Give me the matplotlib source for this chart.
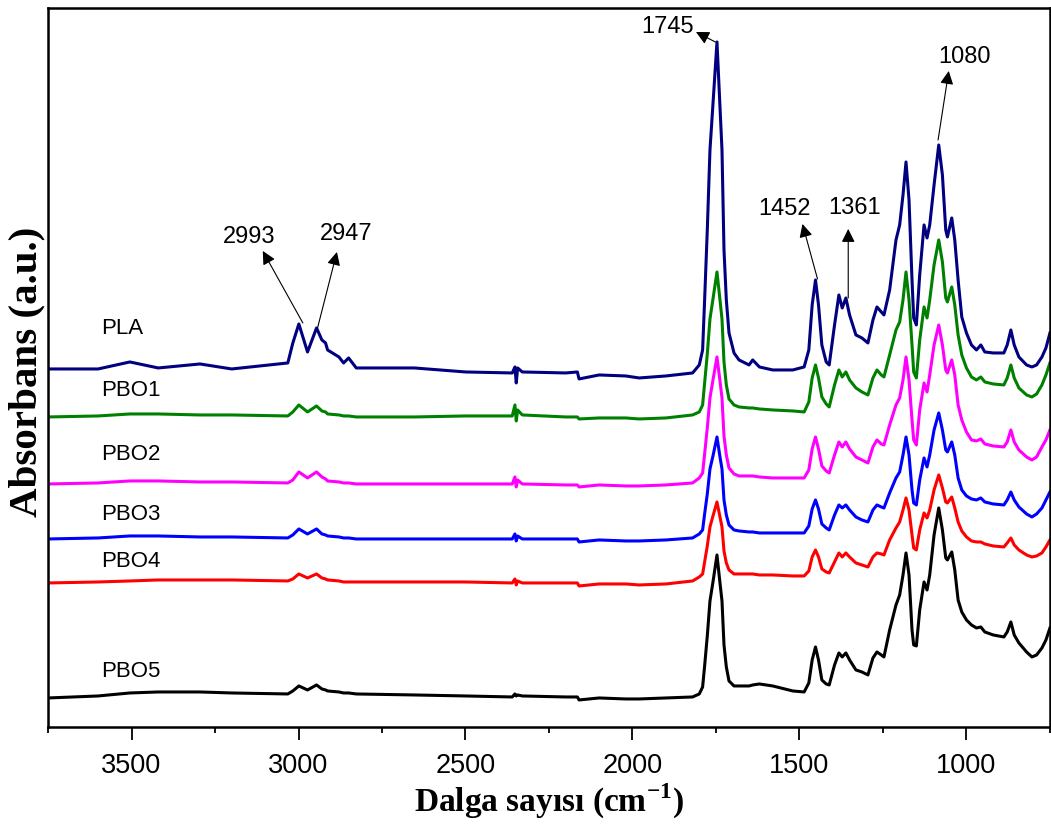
import matplotlib
matplotlib.use("Agg")
import matplotlib.pyplot as plt
from matplotlib.ticker import MultipleLocator

plt.rcParams['mathtext.fontset'] = 'custom'
plt.rcParams['mathtext.rm'] = 'Liberation Serif'
plt.rcParams['mathtext.bf'] = 'Liberation Serif:bold'

# wavenumber grid (cm-1), shared by all spectra
wavenumber = [3750, 3600, 3505, 3420, 3295, 3200, 3032, 3017, 2999, 2973,
              2946, 2930, 2919, 2913, 2879, 2865, 2850, 2827, 2653, 2500,
              2360, 2352, 2348, 2344, 2330, 2200, 2165, 2160, 2100, 2020,
              1980, 1900, 1820, 1800, 1790, 1784, 1776, 1768, 1759, 1747,
              1738, 1732, 1726, 1719, 1711, 1696, 1681, 1651, 1640, 1620,
              1580, 1520, 1486, 1472, 1462, 1452, 1443, 1433, 1420, 1411,
              1395, 1382, 1372, 1361, 1350, 1331, 1313, 1295, 1280, 1268,
              1255, 1247, 1230, 1211, 1200, 1190, 1181, 1172, 1163, 1158,
              1150, 1140, 1127, 1118, 1110, 1097, 1083, 1072, 1062, 1057,
              1044, 1035, 1025, 1014, 1000, 985, 970, 957, 945, 920,
              888, 878, 867, 857, 843, 820, 804, 790, 774, 762,
              750]

pla = [3.58, 3.58, 3.65, 3.59, 3.63, 3.58, 3.64, 3.84, 4.03, 3.75,
       3.99, 3.87, 3.84, 3.77, 3.70, 3.64, 3.69, 3.59, 3.59, 3.55,
       3.54, 3.60, 3.44, 3.59, 3.55, 3.54, 3.55, 3.48, 3.52, 3.51,
       3.49, 3.51, 3.54, 3.62, 3.77, 4.27, 4.97, 5.77, 6.23, 6.85,
       6.20, 5.77, 4.77, 4.27, 3.94, 3.74, 3.67, 3.62, 3.67, 3.60,
       3.57, 3.57, 3.60, 3.77, 4.22, 4.47, 4.22, 3.82, 3.65, 3.62,
       4.02, 4.32, 4.19, 4.29, 4.12, 3.92, 3.89, 3.84, 4.07, 4.20,
       4.15, 4.12, 4.37, 4.87, 5.02, 5.32, 5.65, 5.27, 4.47, 4.09,
       4.02, 4.52, 5.02, 4.89, 5.02, 5.42, 5.82, 5.52, 4.97, 4.90,
       5.09, 4.87, 4.47, 4.10, 3.94, 3.82, 3.77, 3.82, 3.75, 3.74,
       3.74, 3.82, 3.97, 3.82, 3.70, 3.62, 3.60, 3.62, 3.70, 3.79,
       3.94]

pbo1 = [3.10, 3.11, 3.13, 3.13, 3.12, 3.12, 3.11, 3.15, 3.22, 3.15,
        3.21, 3.16, 3.15, 3.13, 3.12, 3.11, 3.11, 3.10, 3.10, 3.11,
        3.11, 3.22, 3.06, 3.17, 3.12, 3.10, 3.10, 3.08, 3.09, 3.09,
        3.08, 3.09, 3.12, 3.15, 3.22, 3.44, 3.73, 4.08, 4.28, 4.55,
        4.27, 4.08, 3.65, 3.42, 3.28, 3.22, 3.20, 3.19, 3.19, 3.18,
        3.17, 3.16, 3.15, 3.25, 3.49, 3.62, 3.49, 3.30, 3.23, 3.20,
        3.42, 3.57, 3.50, 3.55, 3.47, 3.39, 3.35, 3.32, 3.49, 3.57,
        3.52, 3.50, 3.72, 3.97, 4.05, 4.27, 4.55, 4.27, 3.82, 3.55,
        3.49, 3.87, 4.20, 4.09, 4.27, 4.62, 4.87, 4.65, 4.29, 4.25,
        4.40, 4.22, 3.92, 3.72, 3.59, 3.50, 3.47, 3.50, 3.45, 3.43,
        3.42, 3.49, 3.62, 3.49, 3.39, 3.32, 3.30, 3.33, 3.42, 3.52,
        3.64]

pbo2 = [2.43, 2.44, 2.46, 2.46, 2.45, 2.45, 2.44, 2.47, 2.55, 2.49,
        2.55, 2.50, 2.48, 2.46, 2.45, 2.44, 2.44, 2.43, 2.43, 2.43,
        2.43, 2.50, 2.40, 2.47, 2.43, 2.42, 2.42, 2.40, 2.42, 2.41,
        2.41, 2.42, 2.44, 2.49, 2.54, 2.73, 2.99, 3.29, 3.47, 3.70,
        3.46, 3.29, 2.91, 2.72, 2.59, 2.53, 2.51, 2.51, 2.51, 2.50,
        2.49, 2.49, 2.49, 2.57, 2.78, 2.90, 2.78, 2.61, 2.56, 2.54,
        2.72, 2.85, 2.80, 2.85, 2.78, 2.70, 2.67, 2.64, 2.80, 2.87,
        2.83, 2.82, 3.02, 3.22, 3.29, 3.47, 3.70, 3.47, 3.07, 2.87,
        2.82, 3.17, 3.44, 3.35, 3.52, 3.82, 4.02, 3.82, 3.57, 3.54,
        3.67, 3.52, 3.22, 3.07, 2.95, 2.87, 2.86, 2.88, 2.83, 2.81,
        2.80, 2.85, 2.97, 2.85, 2.77, 2.70, 2.67, 2.70, 2.80, 2.87,
        2.97]

pbo3 = [1.88, 1.89, 1.91, 1.91, 1.90, 1.90, 1.89, 1.92, 1.98, 1.93,
        1.98, 1.93, 1.92, 1.91, 1.90, 1.89, 1.89, 1.88, 1.88, 1.88,
        1.88, 1.93, 1.86, 1.91, 1.88, 1.88, 1.88, 1.85, 1.87, 1.86,
        1.86, 1.87, 1.89, 1.93, 1.97, 2.13, 2.33, 2.58, 2.71, 2.90,
        2.70, 2.58, 2.27, 2.12, 2.02, 1.97, 1.96, 1.95, 1.95, 1.94,
        1.94, 1.94, 1.94, 2.01, 2.18, 2.27, 2.18, 2.03, 1.99, 1.97,
        2.12, 2.22, 2.19, 2.22, 2.17, 2.10, 2.07, 2.05, 2.17, 2.22,
        2.20, 2.19, 2.34, 2.49, 2.55, 2.72, 2.90, 2.72, 2.37, 2.24,
        2.22, 2.47, 2.69, 2.60, 2.72, 2.97, 3.14, 2.97, 2.77, 2.75,
        2.85, 2.72, 2.49, 2.37, 2.31, 2.28, 2.27, 2.29, 2.25, 2.23,
        2.22, 2.27, 2.35, 2.27, 2.20, 2.13, 2.10, 2.13, 2.19, 2.27,
        2.35]

pbo4 = [1.44, 1.45, 1.46, 1.47, 1.47, 1.47, 1.46, 1.48, 1.53, 1.49,
        1.53, 1.49, 1.48, 1.47, 1.46, 1.45, 1.45, 1.45, 1.45, 1.45,
        1.44, 1.48, 1.42, 1.46, 1.44, 1.44, 1.44, 1.41, 1.43, 1.43,
        1.42, 1.43, 1.46, 1.50, 1.53, 1.65, 1.81, 2.00, 2.11, 2.25,
        2.10, 2.00, 1.76, 1.64, 1.57, 1.53, 1.53, 1.53, 1.53, 1.52,
        1.52, 1.51, 1.51, 1.56, 1.70, 1.77, 1.70, 1.58, 1.55, 1.54,
        1.65, 1.74, 1.70, 1.74, 1.70, 1.64, 1.62, 1.60, 1.70, 1.74,
        1.73, 1.72, 1.87, 1.99, 2.05, 2.17, 2.29, 2.17, 1.92, 1.79,
        1.77, 1.97, 2.14, 2.09, 2.17, 2.37, 2.52, 2.39, 2.25, 2.24,
        2.30, 2.19, 2.05, 1.96, 1.90, 1.86, 1.85, 1.85, 1.83, 1.81,
        1.80, 1.84, 1.89, 1.82, 1.77, 1.72, 1.70, 1.71, 1.74, 1.80,
        1.87]

pbo5 = [0.29, 0.31, 0.34, 0.35, 0.35, 0.34, 0.33, 0.36, 0.41, 0.37,
        0.42, 0.38, 0.37, 0.36, 0.35, 0.34, 0.34, 0.33, 0.32, 0.31,
        0.30, 0.33, 0.31, 0.32, 0.31, 0.30, 0.30, 0.27, 0.29, 0.28,
        0.28, 0.29, 0.30, 0.33, 0.40, 0.61, 0.91, 1.26, 1.45, 1.72,
        1.44, 1.26, 0.82, 0.60, 0.46, 0.41, 0.41, 0.41, 0.42, 0.43,
        0.41, 0.36, 0.35, 0.44, 0.67, 0.80, 0.67, 0.47, 0.43, 0.42,
        0.62, 0.74, 0.70, 0.74, 0.67, 0.57, 0.55, 0.52, 0.69, 0.75,
        0.72, 0.70, 0.97, 1.22, 1.32, 1.52, 1.74, 1.52, 0.97, 0.82,
        0.81, 1.17, 1.45, 1.37, 1.52, 1.92, 2.19, 1.97, 1.69, 1.67,
        1.75, 1.57, 1.27, 1.15, 1.07, 1.02, 0.99, 1.00, 0.95, 0.92,
        0.90, 0.95, 1.05, 0.92, 0.84, 0.75, 0.70, 0.72, 0.79, 0.87,
        0.99]

names = ['PLA', 'PBO1', 'PBO2', 'PBO3', 'PBO4', 'PBO5']
spectra = [pla, pbo1, pbo2, pbo3, pbo4, pbo5]
colors = ['#000080', '#008000', '#ff00ff', '#0000ff', '#ff0000', '#000000']
# label anchor (wavenumber, absorbance) for each curve name
label_x = [3592, 3592, 3592, 3592, 3592, 3592]
label_y = [3.98, 3.36, 2.72, 2.12, 1.65, 0.55]

# peak annotations: text, text position, arrow tail (on peak), arrow head
peak_text = ['2993', '2947', '1745', '1452', '1361', '1080']
text_pos = [(3149, 4.90), (2856, 4.93), (1896, 7.00), (1545, 5.18), (1334, 5.19), (1005, 6.70)]
tail_pos = [(2987, 4.04), (2943, 3.99), (1752, 6.85), (1446, 4.48), (1354, 4.29), (1085, 5.87)]
head_pos = [(3107, 4.76), (2885, 4.75), (1810, 6.95), (1491, 5.03), (1354, 4.98), (1053, 6.56)]

fig = plt.figure(figsize=(10.51, 8.38), dpi=100)
ax = fig.add_axes([0.0457, 0.1325, 0.9533, 0.8580])

for y, c in zip(spectra, colors):
    ax.plot(wavenumber, y, color=c, lw=2.2, solid_joinstyle='round')

for name, lx, ly in zip(names, label_x, label_y):
    ax.text(lx, ly, name, fontsize=16, family='Liberation Sans',
            ha='left', va='center')

for t, tp, tl, hd in zip(peak_text, text_pos, tail_pos, head_pos):
    ax.text(tp[0], tp[1], t, fontsize=17, family='Liberation Sans',
            ha='center', va='center')
    ax.annotate('', xy=hd, xytext=tl,
                arrowprops=dict(arrowstyle='-|>', color='k', lw=0.8,
                                mutation_scale=20, shrinkA=0, shrinkB=0))

ax.set_xlim(3750, 750)
ax.set_ylim(0, 7.19)
ax.xaxis.set_major_locator(MultipleLocator(500))
ax.xaxis.set_minor_locator(MultipleLocator(250))
ax.set_yticks([])
ax.tick_params(axis='x', which='major', direction='out', length=9, width=1.3,
               labelsize=19.5, pad=10, top=False)
ax.tick_params(axis='x', which='minor', direction='out', length=4.5, width=1.3, top=False)
for lbl in ax.get_xticklabels():
    lbl.set_family('Liberation Sans')
for s in ax.spines.values():
    s.set_linewidth(1.8)

ax.set_xlabel('Dalga sayısı (cm$^{\\mathbf{-1}}$)', fontsize=24, fontweight='bold',
              family='Liberation Serif', labelpad=2)
ax.set_ylabel('Absorbans (a.u.)', fontsize=29.5, fontweight='bold',
              family='Liberation Serif', va='center')
ax.yaxis.set_label_coords(-0.021, 0.494)

fig.savefig('out.png', dpi=100)
